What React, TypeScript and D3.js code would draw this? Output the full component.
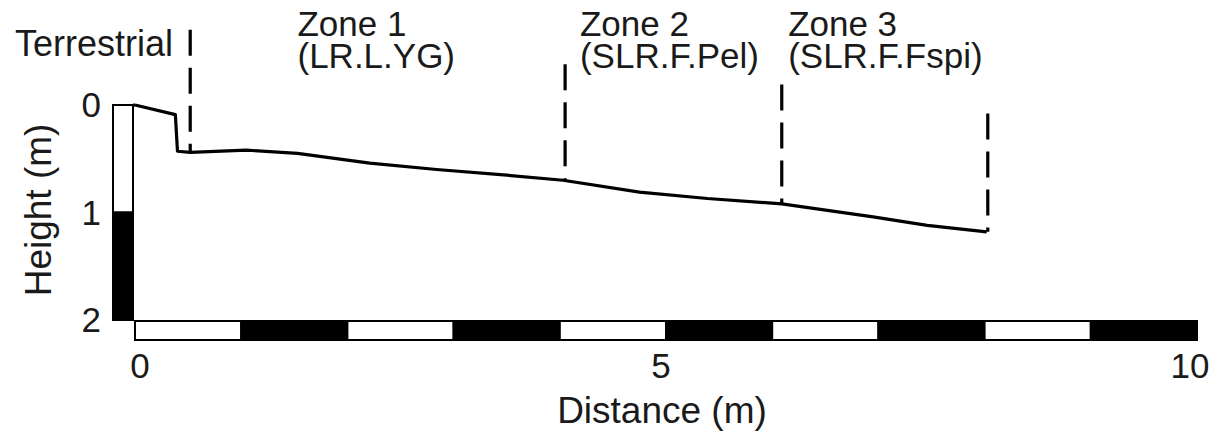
import React from "react";
import * as d3 from "d3";

// profile of the shore, distance (m) vs depth below top (m)
const profileDistance = [0, 0.38, 0.4, 0.52, 1.05, 1.53, 2.21, 2.84, 3.47, 4.03, 4.75, 5.39, 6.09, 6.95, 7.46, 8.02];
const profileHeight = [0, 0.09, 0.43, 0.44, 0.42, 0.45, 0.54, 0.6, 0.65, 0.7, 0.81, 0.87, 0.92, 1.04, 1.12, 1.18];

// zone boundaries (dashed) and how high each dash line reaches
const boundaryDistance = [0.52, 4.05, 6.09, 8.03];
const boundaryTop = [-0.7, -0.38, -0.19, 0.08];
const boundaryBottom = [0.44, 0.7, 0.92, 1.18];

const zoneNames = ["Zone 1", "Zone 2", "Zone 3"];
const zoneCodes = ["(LR.L.YG)", "(SLR.F.Pel)", "(SLR.F.Fspi)"];
const zoneLabelAt = [1.53, 4.19, 6.15];

const xTicks = [0, 5, 10];
const yTicks = [0, 1, 2];
const scaleSegments = d3.range(10);

const W = 1223;
const H = 436;
const FONT = "'Liberation Sans', Arial, sans-serif";

const App: React.FC = () => {
  const x = d3.scaleLinear().domain([0, 10]).range([135, 1197]);
  const y = d3.scaleLinear().domain([0, 2]).range([105, 320]);

  const line = d3.line<number>()
    .x((_, i) => x(profileDistance[i]))
    .y((d) => y(d));

  const barX = x(0) - 22;
  const barW = 20;

  return (
    <svg width={W} height={H} style={{ position: "absolute", left: 0, top: 0, background: "#fff" }}
      fontFamily={FONT} fill="#1a1a1a">
      {/* vertical height bar */}
      {[0, 1].map((v) => (
        <rect key={v} x={barX} y={y(v)} width={barW} height={y(v + 1) - y(v)}
          fill={v === 0 ? "#fff" : "#000"} stroke="#000" strokeWidth={2} />
      ))}

      {/* distance scale bar */}
      {scaleSegments.map((v) => (
        <rect key={v} x={x(v)} y={321} width={x(v + 1) - x(v)} height={19}
          fill={v % 2 === 0 ? "#fff" : "#000"} stroke="#000" strokeWidth={2} />
      ))}

      {/* profile */}
      <path d={line(profileHeight) || ""} fill="none" stroke="#000" strokeWidth={3.2} strokeLinejoin="round" />
      <line x1={barX + barW} x2={x(0)} y1={y(0)} y2={y(0)} stroke="#000" strokeWidth={3} />

      {/* zone boundaries */}
      {boundaryDistance.map((d, i) => (
        <line key={i} x1={x(d)} x2={x(d)} y1={y(boundaryTop[i])} y2={y(boundaryBottom[i])}
          stroke="#000" strokeWidth={3.2} strokeDasharray="26,12" />
      ))}

      {/* labels */}
      <text x={15} y={56} fontSize={36}>Terrestrial</text>
      {zoneNames.map((z, i) => (
        <g key={z}>
          <text x={x(zoneLabelAt[i])} y={36} fontSize={35}>{z}</text>
          <text x={x(zoneLabelAt[i])} y={68} fontSize={35}>{zoneCodes[i]}</text>
        </g>
      ))}

      {yTicks.map((v) => (
        <text key={v} x={101} y={y(v) + 12} fontSize={35} textAnchor="end">{v}</text>
      ))}
      {xTicks.map((v) => (
        <text key={v} x={x(v) + (v === 0 ? 5 : v === 5 ? -5 : -7)} y={378} fontSize={35} textAnchor="middle">{v}</text>
      ))}

      <text x={662} y={423} fontSize={37} textAnchor="middle">Distance (m)</text>
      <text transform={`translate(51,${210}) rotate(-90)`} fontSize={37} textAnchor="middle">Height (m)</text>
    </svg>
  );
};

export default App;
